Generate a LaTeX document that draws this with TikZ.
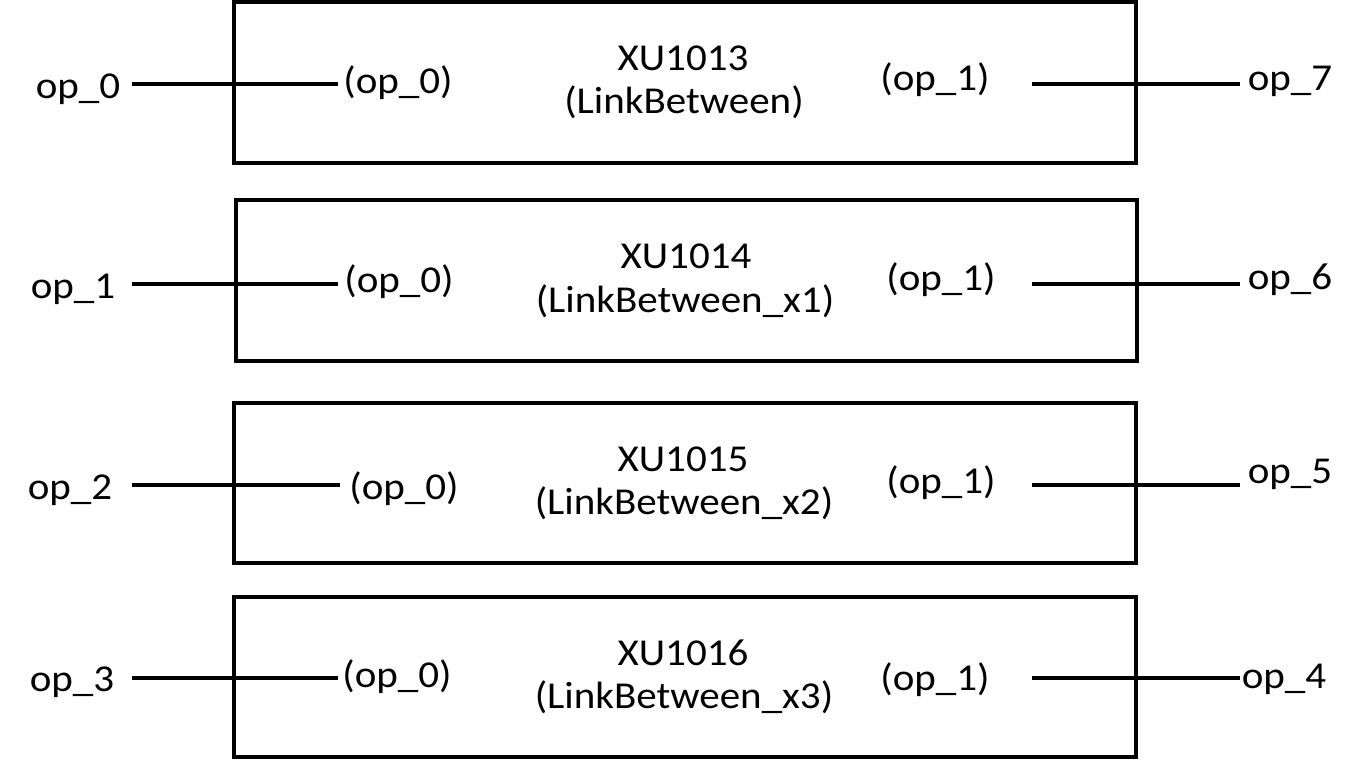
\documentclass[tikz,border=0pt]{standalone}
\usepackage{fontspec}
\setmainfont{Carlito}[FakeStretch=1.08]
\begin{document}
\begin{tikzpicture}[x=0.75pt,y=-0.75pt,
  blk/.style={draw=black,line width=2.3pt},
  wire/.style={draw=black,line width=2.3pt},
  lbl/.style={inner sep=0pt,font=\fontsize{28.5}{32}\selectfont,anchor=base},
  ttl/.style={inner sep=0pt,font=\fontsize{28.5}{32}\selectfont,anchor=base}]
\useasboundingbox (0,0) rectangle (1365,760);
% boxes
\draw[blk] (234,2) rectangle (1136,163) coordinate (b1);
\draw[blk] (236,200) rectangle (1137,361) coordinate (b2);
\draw[blk] (234,403) rectangle (1136,563) coordinate (b3);
\draw[blk] (234,597) rectangle (1136,757) coordinate (b4);
% row 1
\node[lbl] (l1) at (78,98) {op\_0};
\node[lbl] (p1a) at (398,93) {(op\_0)};
\node[ttl] (t1a) at (683,70) {XU1013};
\node[ttl] (t1b) at (684,113) {(LinkBetween)};
\node[lbl] (p1b) at (935,90) {(op\_1)};
\node[lbl] (r1) at (1290,90) {op\_7};
\coordinate (l1e) at (132,84); \coordinate (p1w) at (338,84);
\coordinate (p1e) at (1032,84); \coordinate (r1w) at (1240,84);
\draw[wire] (l1e) -- (p1w); \draw[wire] (p1e) -- (r1w);
% row 2
\node[lbl] (l2) at (73,298) {op\_1};
\node[lbl] (p2a) at (399,292) {(op\_0)};
\node[ttl] (t2a) at (686,268) {XU1014};
\node[ttl] (t2b) at (685,312) {(LinkBetween\_x1)};
\node[lbl] (p2b) at (941,290) {(op\_1)};
\node[lbl] (r2) at (1290,289) {op\_6};
\coordinate (l2e) at (132,284); \coordinate (p2w) at (338,284);
\coordinate (p2e) at (1032,284); \coordinate (r2w) at (1240,284);
\draw[wire] (l2e) -- (p2w); \draw[wire] (p2e) -- (r2w);
% row 3
\node[lbl] (l3) at (70,499) {op\_2};
\node[lbl] (p3a) at (404,499) {(op\_0)};
\node[ttl] (t3a) at (683,471) {XU1015};
\node[ttl] (t3b) at (684,514) {(LinkBetween\_x2)};
\node[lbl] (p3b) at (941,493) {(op\_1)};
\node[lbl] (r3) at (1290,483) {op\_5};
\coordinate (l3e) at (132,485); \coordinate (p3w) at (340,485);
\coordinate (p3e) at (1032,485); \coordinate (r3w) at (1240,485);
\draw[wire] (l3e) -- (p3w); \draw[wire] (p3e) -- (r3w);
% row 4
\node[lbl] (l4) at (72,691) {op\_3};
\node[lbl] (p4a) at (397,687) {(op\_0)};
\node[ttl] (t4a) at (683,665) {XU1016};
\node[ttl] (t4b) at (684,708) {(LinkBetween\_x3)};
\node[lbl] (p4b) at (935,690) {(op\_1)};
\node[lbl] (r4) at (1284,688) {op\_4};
\coordinate (l4e) at (132,678); \coordinate (p4w) at (338,678);
\coordinate (p4e) at (1032,678); \coordinate (r4w) at (1240,678);
\draw[wire] (l4e) -- (p4w); \draw[wire] (p4e) -- (r4w);
\end{tikzpicture}
\end{document}
